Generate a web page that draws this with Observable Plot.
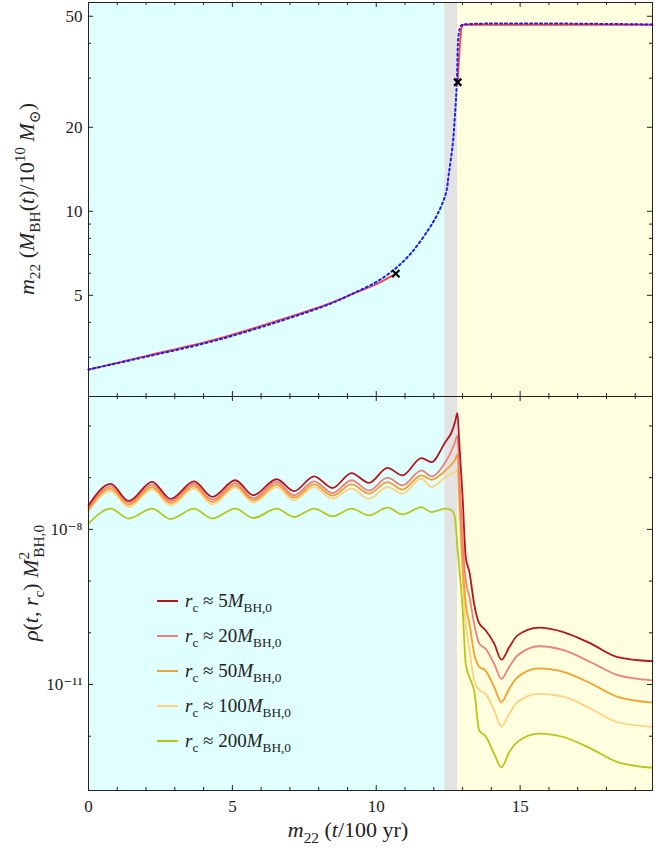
<!DOCTYPE html>
<html>
<head>
<meta charset="utf-8">
<script src="https://cdn.jsdelivr.net/npm/d3@7"></script>
<script src="https://cdn.jsdelivr.net/npm/@observablehq/plot@0.6"></script>
<style>
  html, body { margin: 0; padding: 0; background: white; }
  #chart { width: 672px; position: relative; }
  #chart svg { display: block; }
</style>
</head>
<body>
<div id="chart"></div>
<script>
// ---------- data ----------
// phase regions along the x axis (m22 t / 100 yr)
const regionStart = [0, 12.38, 12.83];
const regionEnd   = [12.38, 12.83, 19.6];
const regionFill  = ["#e0ffff", "#e3e3e3", "#ffffe0"];

// top panel: black-hole mass (m22 M_BH / 1e10 Msun)
const tBlue = [0, 2.05, 4.35, 6.68, 8.42, 9.23, 9.92, 10.62, 11.2, 11.79, 12.14, 12.42, 12.52, 12.66, 12.73, 12.80, 12.87, 12.95, 13.04, 19.6];
const mBlue = [2.71, 3.02, 3.43, 4.05, 4.67, 5.10, 5.52, 6.18, 7.06, 8.53, 9.82, 11.6, 13.6, 17.5, 21.7, 28.7, 43.4, 46.3, 46.7, 46.7];
const tRed1 = [0, 2.05, 4.35, 6.68, 8.42, 9.23, 10.0, 10.68];
const mRed1 = [2.71, 3.04, 3.46, 4.09, 4.70, 5.08, 5.48, 5.98];
const tRed2 = [12.83, 12.90, 12.97, 13.05, 19.6];
const mRed2 = [29.0, 38.5, 45.5, 46.6, 46.6];
const markT = [10.68, 12.83];
const markM = [5.98, 29.0];

// bottom panel: log10 of rho(t, r_c) M_BH,0^2
const tRho = [0, 0.77, 1.40, 2.21, 2.85, 3.67, 4.30, 5.10, 5.73, 6.54, 7.14, 7.84, 8.48, 9.14, 9.75, 10.39, 10.91, 11.57, 11.92, 12.40, 12.62, 12.74, 12.82, 12.88, 13.00, 13.11, 13.24, 13.40, 13.58, 13.80, 14.10, 14.35, 14.62, 14.91, 15.66, 16.53, 17.46, 18.39, 19.60];
const rho5 = [-7.536, -7.12, -7.45, -7.08, -7.41, -7.07, -7.37, -7.05, -7.34, -7.03, -7.26, -6.975, -7.20, -6.91, -7.10, -6.81, -6.955, -6.62, -6.70, -6.31, -6.12, -5.92, -5.75, -6.28, -7.37, -8.54, -8.83, -9.44, -9.82, -9.95, -10.21, -10.52, -10.28, -10.05, -9.90, -9.99, -10.21, -10.47, -10.55];
const rho20 = [-7.581, -7.168, -7.484, -7.136, -7.452, -7.117, -7.426, -7.104, -7.40, -7.084, -7.342, -7.072, -7.297, -7.05, -7.25, -7.00, -7.15, -6.86, -6.975, -6.70, -6.47, -6.31, -6.18, -6.92, -8.21, -8.99, -9.31, -9.82, -10.21, -10.31, -10.60, -10.89, -10.66, -10.44, -10.26, -10.34, -10.57, -10.82, -10.92];
const rho50 = [-7.613, -7.213, -7.523, -7.181, -7.491, -7.162, -7.471, -7.149, -7.439, -7.136, -7.387, -7.13, -7.349, -7.13, -7.31, -7.085, -7.23, -6.955, -7.04, -6.86, -6.74, -6.65, -6.55, -7.25, -8.66, -9.44, -9.82, -10.40, -10.66, -10.73, -11.05, -11.34, -11.08, -10.86, -10.69, -10.76, -10.98, -11.24, -11.35];
const rho100 = [-7.652, -7.259, -7.568, -7.226, -7.536, -7.213, -7.516, -7.194, -7.484, -7.181, -7.439, -7.181, -7.407, -7.21, -7.41, -7.18, -7.31, -7.02, -7.18, -6.99, -6.92, -6.89, -6.86, -7.57, -8.92, -9.82, -10.34, -10.92, -11.11, -11.18, -11.50, -11.81, -11.57, -11.34, -11.18, -11.24, -11.47, -11.73, -11.82];
const rho200 = [-7.89, -7.60, -7.79, -7.60, -7.80, -7.60, -7.79, -7.60, -7.78, -7.60, -7.76, -7.60, -7.745, -7.60, -7.73, -7.58, -7.71, -7.57, -7.665, -7.60, -7.63, -7.79, -8.34, -8.72, -9.50, -10.60, -10.86, -11.11, -11.89, -12.00, -12.34, -12.60, -12.31, -12.11, -11.95, -12.02, -12.24, -12.50, -12.61];
const seriesRc = ["5", "20", "50", "100", "200"];
const seriesColors = ["#b5141c", "#f08078", "#f5a02e", "#ffd07e", "#b4c816"];
const seriesValues = [rho5, rho20, rho50, rho100, rho200];

// ticks
const xMajor = [0, 5, 10, 15];
const xMinor = [1, 2, 3, 4, 6, 7, 8, 9, 11, 12, 13, 14, 16, 17, 18, 19];
const massMajor = [5, 10, 20, 50];
const massMinor = [3, 4, 6, 7, 8, 9, 30, 40];
const rhoMajor = [1e-8, 1e-11];
const rhoMinor = [1e-6, 1e-7, 1e-9, 1e-10, 1e-12];

// ---------- layout ----------
const W = 672, mL = 88, mR = 20, FH = 394;
const FW = W - mL - mR;
const FONT = "'Liberation Serif', 'DejaVu Serif', serif";
const INK = "#222";
const regions = regionStart.map((s, i) => ({x1: s, x2: regionEnd[i], fill: regionFill[i]}));
const id = d => d;

function frameTicks(yMajor, yMinor) {
  const marks = [];
  for (const [arr, len] of [[xMajor, 5], [xMinor, 3]]) {
    marks.push(Plot.tickX(arr, {x: id, insetTop: FH - len, stroke: INK, strokeWidth: 1}));
    marks.push(Plot.tickX(arr, {x: id, insetBottom: FH - len, stroke: INK, strokeWidth: 1}));
  }
  for (const [arr, len] of [[yMajor, 5], [yMinor, 3]]) {
    marks.push(Plot.tickY(arr, {y: id, insetRight: FW - len, stroke: INK, strokeWidth: 1}));
    marks.push(Plot.tickY(arr, {y: id, insetLeft: FW - len, stroke: INK, strokeWidth: 1}));
  }
  return marks;
}

const baseStyle = {fontFamily: FONT, fontSize: "17px", background: "transparent", color: INK, overflow: "visible"};

// ---------- top panel ----------
const topPlot = Plot.plot({
  width: W, height: 396, marginTop: 2, marginBottom: 0, marginLeft: mL, marginRight: mR,
  style: baseStyle,
  color: {type: "identity"},
  x: {domain: [0, 19.6], axis: null},
  y: {type: "log", domain: [2.17, 56], axis: null},
  marks: [
    Plot.rect(regions, {x1: "x1", x2: "x2", fill: "fill"}),
    Plot.line(tRed1, {x: id, y: (d, i) => mRed1[i], stroke: "#ff4040", strokeWidth: 1.8, curve: "catmull-rom"}),
    Plot.line(tRed2, {x: id, y: (d, i) => mRed2[i], stroke: "#ff4040", strokeWidth: 1.8, curve: "monotone-x"}),
    Plot.line(tBlue, {x: id, y: (d, i) => mBlue[i], stroke: "#1a1aff", strokeWidth: 2, strokeDasharray: "2 3", curve: "catmull-rom"}),
    Plot.dot(markT, {x: id, y: (d, i) => markM[i], symbol: "times", r: 3.4, stroke: "black", strokeWidth: 2.2}),
    ...frameTicks(massMajor, massMinor),
    Plot.axisY(massMajor, {tickSize: 0, tickPadding: 6, tickFormat: d => String(d), fontSize: 17, label: null}),
    Plot.frame({stroke: INK, strokeWidth: 1})
  ]
});

// ---------- bottom panel ----------
const supDigits = {"-": "⁻", "0": "⁰", "1": "¹", "2": "²", "3": "³", "4": "⁴", "5": "⁵", "6": "⁶", "7": "⁷", "8": "⁸", "9": "⁹"};
const powLabel = d => "10" + String(Math.round(Math.log10(d))).split("").map(c => supDigits[c]).join("");

const lineMarks = seriesValues.map((vals, i) => Plot.line(tRho, {
  x: id, y: (d, j) => Math.pow(10, vals[j]), stroke: seriesColors[i], strokeWidth: 1.8, curve: "monotone-x"
})).reverse();

const bottomPlot = Plot.plot({
  width: W, height: 460, marginTop: 0, marginBottom: 66, marginLeft: mL, marginRight: mR,
  style: baseStyle,
  color: {type: "identity"},
  x: {domain: [0, 19.6], axis: null},
  y: {type: "log", domain: [Math.pow(10, -13.05), Math.pow(10, -5.43)], axis: null},
  marks: [
    Plot.rect(regions, {x1: "x1", x2: "x2", fill: "fill"}),
    ...lineMarks,
    ...frameTicks(rhoMajor, rhoMinor),
    Plot.axisY(rhoMajor, {tickSize: 0, tickPadding: 6, tickFormat: powLabel, fontSize: 17, label: null}),
    Plot.axisX(xMajor, {tickSize: 0, tickPadding: 9, tickFormat: d => String(d), fontSize: 17, label: null}),
    Plot.frame({stroke: INK, strokeWidth: 1})
  ]
});

const chart = document.getElementById("chart");
chart.appendChild(topPlot);
chart.appendChild(bottomPlot);

// ---------- rich (math-like) text ----------
function richText(svg, x, y, parts, size, {anchor = "middle", rotate = 0} = {}) {
  const t = d3.select(svg).append("text")
    .attr("transform", `translate(${x},${y}) rotate(${rotate})`)
    .attr("text-anchor", anchor)
    .attr("font-family", FONT)
    .attr("font-size", size)
    .attr("fill", INK);
  let shift = 0;
  for (const p of parts) {
    const [s, o = {}] = p;
    const target = o.sub ? size * 0.28 : o.sup ? -size * 0.42 : 0;
    const ts = t.append("tspan").text(s).attr("dy", target - shift);
    shift = target;
    if (o.it) ts.attr("font-style", "italic");
    if (o.sub || o.sup) ts.attr("font-size", size * 0.7);
    if (o.dx) ts.attr("dx", o.dx);
  }
  return t;
}

// top y label
richText(topPlot, 34, 199, [
  ["m", {it: true}], ["22", {sub: true}], [" (", {}], ["M", {it: true}], ["BH", {sub: true}],
  ["(", {}], ["t", {it: true}], [")/10", {}], ["10", {sup: true}], [" ", {}], ["M", {it: true}], ["⊙", {sub: true}], [")", {}]
], 22, {rotate: -90});

// bottom y label
richText(bottomPlot, 38, 187, [
  ["ρ", {it: true}], ["(", {}], ["t", {it: true}], [", ", {}], ["r", {it: true}], ["c", {sub: true}], [") ", {}],
  ["M", {it: true}], ["2", {sup: true}], ["BH,0", {sub: true, dx: -6}]
], 22, {rotate: -90});

// x label
richText(bottomPlot, 348, 441, [
  ["m", {it: true}], ["22", {sub: true}], [" (", {}], ["t", {it: true}], ["/100 yr)", {}]
], 22);

// legend
const legendRows = [205, 240, 275, 310, 345];
const lg = d3.select(bottomPlot).append("g");
seriesRc.forEach((rc, i) => {
  lg.append("line").attr("x1", 157).attr("x2", 178).attr("y1", legendRows[i]).attr("y2", legendRows[i])
    .attr("stroke", seriesColors[i]).attr("stroke-width", 2);
  richText(bottomPlot, 185, legendRows[i] + 6, [
    ["r", {it: true}], ["c", {sub: true}], [" ≈ " + rc, {}], ["M", {it: true}], ["BH,0", {sub: true}]
  ], 19, {anchor: "start"});
});
</script>
</body>
</html>
